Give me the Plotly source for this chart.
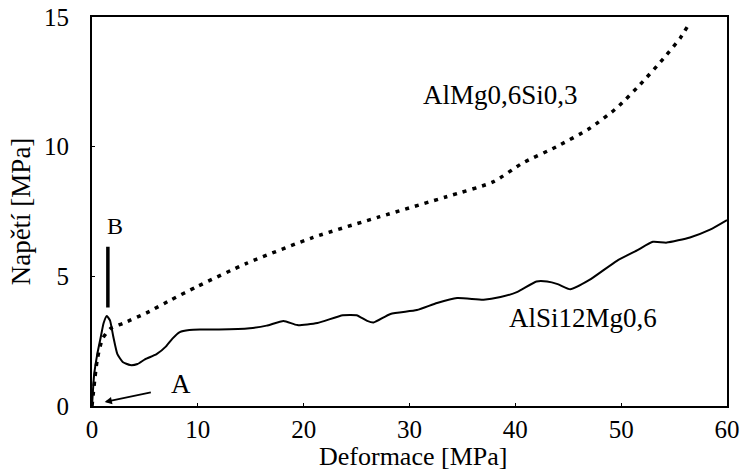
import plotly.graph_objects as go

# AlSi12Mg0,6 (solid)
solid_x = [0, 0.2, 0.5, 0.8, 1.1, 1.4, 1.7, 2.0, 2.4, 2.9, 3.6, 4.3, 5.0, 6.1, 7.0, 7.6, 8.3, 9.2,
           10.2, 12.0, 14.9, 16.5, 18.1, 19.4, 21.3, 23.7, 25.0, 26.0, 26.6, 28.2, 30.7, 32.6, 34.5,
           37.0, 38.6, 40.2, 42.0, 43.0, 44.0, 45.2, 47.0, 49.6, 51.5, 53.0, 54.3, 56.5, 58.4, 60.0]
solid_y = [0, 1.2, 2.0, 2.6, 3.2, 3.47, 3.3, 2.7, 2.0, 1.7, 1.58, 1.62, 1.8, 2.0, 2.3, 2.6, 2.85, 2.93,
           2.95, 2.95, 3.0, 3.1, 3.28, 3.12, 3.2, 3.5, 3.5, 3.28, 3.22, 3.55, 3.7, 3.97, 4.16,
           4.1, 4.2, 4.4, 4.8, 4.8, 4.7, 4.5, 4.86, 5.6, 6.0, 6.33, 6.3, 6.5, 6.8, 7.17]

# AlMg0,6Si0,3 (dotted)
dot_x = [0, 0.5, 1.0, 1.8, 3.0, 5.2, 7.5, 9.9, 14.6, 20.9, 27.2, 33.5, 37.9, 40.7, 43.9, 47.0,
         49.6, 51.8, 54.0, 55.6, 56.5]
dot_y = [0, 1.8, 2.6, 3.0, 3.2, 3.6, 4.1, 4.6, 5.5, 6.5, 7.3, 8.07, 8.64, 9.37, 10.0, 10.7,
         11.5, 12.4, 13.4, 14.2, 14.8]

x_ticks = [0, 10, 20, 30, 40, 50, 60]
y_ticks = [0, 5, 10, 15]

font = "Liberation Serif"

fig = go.Figure()
fig.add_trace(go.Scatter(x=dot_x, y=dot_y, mode="lines",
                         line=dict(color="black", width=3.5, dash="4px,6px", shape="spline",
                                   smoothing=0.6), showlegend=False))
fig.add_trace(go.Scatter(x=solid_x, y=solid_y, mode="lines",
                         line=dict(color="black", width=2, shape="spline", smoothing=0.5),
                         showlegend=False))

# annotations
fig.add_annotation(x=38.6, y=12.0, text="AlMg0,6Si0,3", showarrow=False,
                   font=dict(family=font, size=27, color="black"))
fig.add_annotation(x=46.4, y=3.4, text="AlSi12Mg0,6", showarrow=False,
                   font=dict(family=font, size=27, color="black"))
# B marker
fig.add_annotation(x=1.5, y=3.8, ax=1.5, ay=6.2, xref="x", yref="y", axref="x", ayref="y",
                   text="", showarrow=True, arrowhead=0, arrowwidth=3.5, arrowcolor="black")
fig.add_annotation(x=2.2, y=6.95, text="B", showarrow=False,
                   font=dict(family=font, size=24, color="black"))
# A marker
fig.add_annotation(x=1.2, y=0.15, ax=5.7, ay=0.54, xref="x", yref="y", axref="x", ayref="y",
                   text="", showarrow=True, arrowhead=2, arrowsize=0.8, arrowwidth=1.8,
                   arrowcolor="black")
fig.add_annotation(x=8.4, y=0.85, text="A", showarrow=False,
                   font=dict(family=font, size=27, color="black"))

# x-axis title placed below tick labels
fig.add_annotation(x=0.505, y=0, xref="paper", yref="paper", yanchor="middle", yshift=-50,
                   text="Deformace [MPa]", showarrow=False,
                   font=dict(family=font, size=26, color="black"))

fig.update_layout(
    width=744, height=474,
    margin=dict(l=92, r=17, t=17, b=68),
    paper_bgcolor="white", plot_bgcolor="white",
    font=dict(family=font, size=25, color="black"),
    showlegend=False,
)
fig.update_xaxes(range=[0, 60], tickvals=x_ticks, ticktext=[str(v) for v in x_ticks],
                 showgrid=False, zeroline=False, showline=True, linewidth=2, linecolor="black",
                 mirror=True, ticks="inside", ticklen=3, tickcolor="black", automargin=False,
                 tickfont=dict(family=font, size=25))
fig.update_yaxes(range=[0, 15], tickvals=y_ticks, ticktext=[str(v) for v in y_ticks],
                 showgrid=False, zeroline=False, showline=True, linewidth=2, linecolor="black",
                 mirror=True, ticks="inside", ticklen=3, tickcolor="black", ticklabelstandoff=16,
                 automargin=False, tickfont=dict(family=font, size=25),
                 title=dict(text="Napětí [MPa]", font=dict(family=font, size=27), standoff=6))

fig.write_html("out.html")
